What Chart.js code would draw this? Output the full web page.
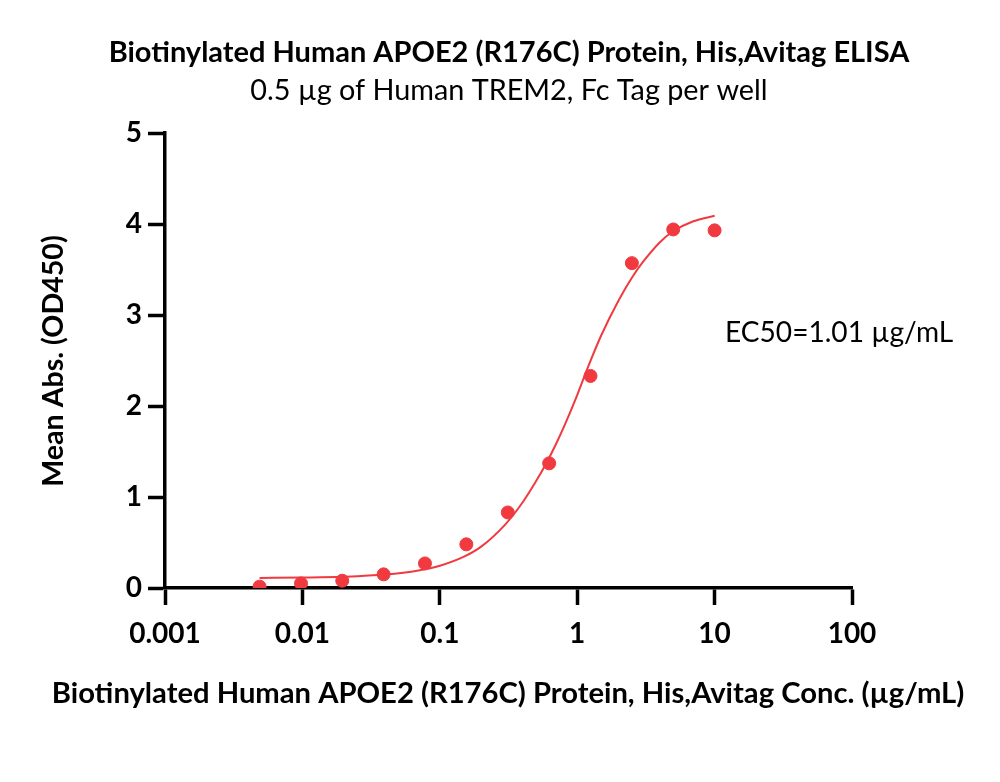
<!DOCTYPE html>
<html lang="en">
<head>
    <meta charset="UTF-8">
    <title>APOE2 (R176C) ELISA</title>
    <script src="https://cdn.jsdelivr.net/npm/chart.js"></script>
    <style>
body {
    background: #fff;
    margin: 0;
}
#elisa {
    display: block;
}
    </style>
</head>
<body>
    <canvas id="elisa" width="1000" height="782"></canvas>
    <script>
        // Measured points (µg/mL vs OD450)
        const concentrations = [0.00488, 0.00977, 0.0195, 0.039, 0.078, 0.156, 0.3125, 0.625, 1.25, 2.5, 5, 10];
        const absorbance = [0.015, 0.05, 0.08, 0.15, 0.27, 0.48, 0.83, 1.37, 2.33, 3.57, 3.94, 3.93];

        // Fitted curve
        const fitX = [0.00488, 0.01, 0.02, 0.04, 0.07, 0.1, 0.15, 0.2, 0.3, 0.4, 0.5, 0.6, 0.7, 0.8, 1.0, 1.2, 1.5, 2, 2.5, 3, 4, 5, 7, 10];
        const fitY = [0.11, 0.115, 0.124, 0.148, 0.193, 0.245, 0.345, 0.455, 0.70, 0.94, 1.17, 1.38, 1.58, 1.77, 2.12, 2.43, 2.78, 3.16, 3.41, 3.58, 3.80, 3.92, 4.03, 4.09];

        const xTicks = [0.001, 0.01, 0.1, 1, 10, 100];
        const xTickLabels = ['0.001', '0.01', '0.1', '1', '10', '100'];

        const red = '#f03a40';
        const fontFamily = 'Lato, "Open Sans", sans-serif';

        // fits a text to a given width
        function fitFont(ctx, text, weight, width) {
            ctx.font = weight + ' 100px ' + fontFamily;
            const size = 100 * width / ctx.measureText(text).width;
            ctx.font = weight + ' ' + size.toFixed(1) + 'px ' + fontFamily;
        }

        const textPlugin = {
            id: 'texts',
            afterDraw(chart) {
                const ctx = chart.ctx;
                ctx.save();
                ctx.fillStyle = '#000';
                ctx.textAlign = 'center';
                ctx.textBaseline = 'middle';

                let t = 'Biotinylated Human APOE2 (R176C) Protein, His,Avitag ELISA';
                fitFont(ctx, t, 'bold', 802);
                ctx.fillText(t, 509, 53);

                t = '0.5 µg of Human TREM2, Fc Tag per well';
                fitFont(ctx, t, 'normal', 518);
                ctx.fillText(t, 509, 91);

                t = 'Biotinylated Human APOE2 (R176C) Protein, His,Avitag Conc. (µg/mL)';
                fitFont(ctx, t, 'bold', 913);
                ctx.fillText(t, 508, 694);

                t = 'EC50=1.01 µg/mL';
                fitFont(ctx, t, 'normal', 228);
                ctx.textAlign = 'left';
                ctx.fillText(t, 725, 333);

                t = 'Mean Abs. (OD450)';
                ctx.translate(54, 361);
                ctx.rotate(-Math.PI / 2);
                ctx.textAlign = 'center';
                fitFont(ctx, t, 'bold', 252);
                ctx.fillText(t, 0, 0);
                ctx.restore();
            }
        };

        const ctx = document.getElementById('elisa').getContext('2d');
        new Chart(ctx, {
            type: 'scatter',
            data: {
                datasets: [
                    {
                        label: 'Data',
                        data: concentrations.map((x, i) => ({ x: x, y: absorbance[i] })),
                        backgroundColor: red,
                        borderColor: red,
                        pointRadius: 6.5,
                        pointHoverRadius: 6.5,
                        order: 0
                    },
                    {
                        label: 'Fit',
                        data: fitX.map((x, i) => ({ x: x, y: fitY[i] })),
                        showLine: true,
                        borderColor: red,
                        borderWidth: 2,
                        pointRadius: 0,
                        tension: 0.4,
                        cubicInterpolationMode: 'monotone',
                        order: 1
                    }
                ]
            },
            options: {
                responsive: false,
                animation: false,
                layout: { padding: { top: 133, right: 148, bottom: 0, left: 0 } },
                plugins: {
                    legend: { display: false },
                    tooltip: { enabled: false }
                },
                scales: {
                    x: {
                        type: 'logarithmic',
                        min: 0.001,
                        max: 100,
                        afterBuildTicks: (scale) => { scale.ticks = xTicks.map(v => ({ value: v })); },
                        afterFit: (scale) => { scale.height = 194; },
                        ticks: {
                            color: '#000',
                            font: { family: fontFamily, size: 28, weight: 'bold' },
                            padding: 12,
                            maxRotation: 0,
                            autoSkip: false,
                            callback: (value, index) => xTickLabels[index]
                        },
                        grid: { drawOnChartArea: false, tickLength: 17, tickWidth: 3.5, tickColor: '#000' },
                        border: { display: true, color: '#000', width: 3.5 }
                    },
                    y: {
                        min: 0,
                        max: 5,
                        afterFit: (scale) => { scale.width = 165; },
                        ticks: {
                            stepSize: 1,
                            color: '#000',
                            font: { family: fontFamily, size: 28, weight: 'bold' },
                            padding: 6
                        },
                        grid: { drawOnChartArea: false, tickLength: 17, tickWidth: 3.5, tickColor: '#000' },
                        border: { display: true, color: '#000', width: 3.5 }
                    }
                }
            },
            plugins: [textPlugin]
        });
    </script>
</body>
</html>
